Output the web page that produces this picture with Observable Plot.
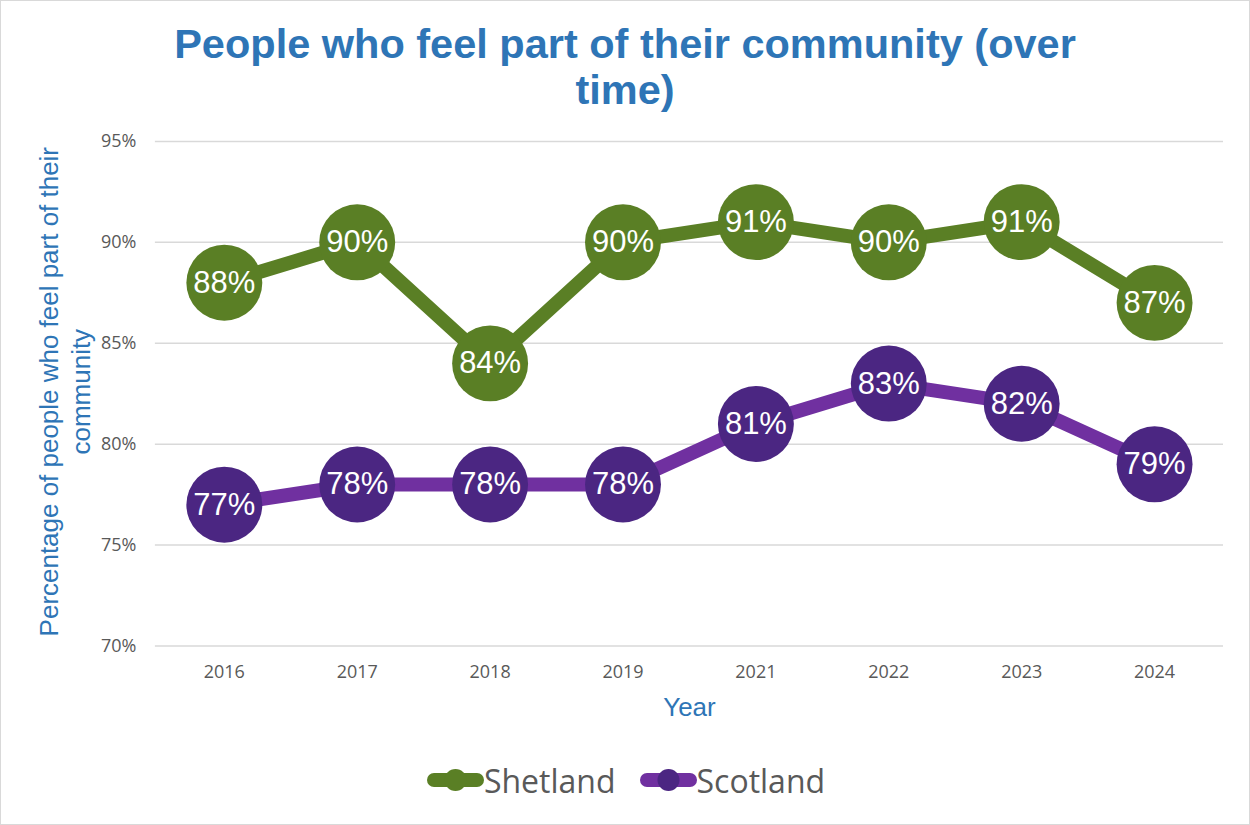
<!DOCTYPE html>
<html>
<head>
<meta charset="utf-8">
<script src="https://cdn.jsdelivr.net/npm/d3@7"></script>
<script src="https://cdn.jsdelivr.net/npm/@observablehq/plot@0.6"></script>
<style>
  body { margin: 0; background: #fff; }
  #wrap { position: relative; width: 1248px; height: 823px; border: 1px solid #d9d9d9; overflow: hidden; background: #fff; }
  #chart { position: absolute; left: -1px; top: -1px; z-index: 1; }
  #title { position: absolute; left: -1px; top: 20px; width: 1250px; text-align: center; color: #2e75b6;
           font-family: "Liberation Sans", Arial, sans-serif; font-weight: bold; font-size: 41.5px; line-height: 46px; z-index: 2; }
  #legend { position: absolute; left: 0px; top: 757px; width: 1250px; height: 44px; display: flex; justify-content: center;
            align-items: center; z-index: 2; font-family: "Open Sans", sans-serif; font-size: 32px; color: #595959; }
  .item { display: flex; align-items: center; margin: 0 12px; }
  .item svg { display: block; }
</style>
</head>
<body>
<div id="wrap">
  <div id="title">People who feel part of their community (over<br>time)</div>
  <div id="chart"></div>
  <div id="legend"></div>
</div>
<script>
const years = ["2016", "2017", "2018", "2019", "2021", "2022", "2023", "2024"];
const shetland = [88, 90, 84, 90, 91, 90, 91, 87];
const scotland = [77, 78, 78, 78, 81, 83, 82, 79];
const yTicks = [70, 75, 80, 85, 90, 95];
const seriesNames = ["Shetland", "Scotland"];
const yLabel = "Percentage of people who feel part of their\ncommunity";
const xLabel = "Year";

const lineColors = {Shetland: "#5a7f25", Scotland: "#7030a0"};
const dotColors = {Shetland: "#5a7f25", Scotland: "#4b2682"};

const shetData = years.map((y, i) => ({year: y, value: shetland[i], series: "Shetland"}));
const scotData = years.map((y, i) => ({year: y, value: scotland[i], series: "Scotland"}));

const blue = "#2e75b6";
const arial = "'Liberation Sans', Arial, sans-serif";

const plot = Plot.plot({
  width: 1250,
  height: 825,
  marginLeft: 155,
  marginRight: 26,
  marginTop: 141,
  marginBottom: 179,
  style: {background: "transparent", fontFamily: "'Open Sans', sans-serif", fontSize: "18px", color: "#595959"},
  x: {type: "point", domain: years, padding: 0.5, label: null},
  y: {domain: [70, 95], label: null},
  marks: [
    Plot.ruleY(yTicks, {stroke: "#d9d9d9", strokeWidth: 1.5}),
    Plot.axisY({ticks: yTicks, tickSize: 0, tickPadding: 19, tickFormat: d => d + "%", label: null}),
    Plot.axisX({tickSize: 0, tickPadding: 19, label: null}),
    Plot.line(shetData, {x: "year", y: "value", stroke: lineColors.Shetland, strokeWidth: 14}),
    Plot.line(scotData, {x: "year", y: "value", stroke: lineColors.Scotland, strokeWidth: 14}),
    Plot.dot(shetData, {x: "year", y: "value", r: 38, fill: dotColors.Shetland}),
    Plot.dot(scotData, {x: "year", y: "value", r: 38, fill: dotColors.Scotland}),
    Plot.text(shetData.concat(scotData), {x: "year", y: "value", text: d => d.value + "%", fill: "white",
      fontSize: 31, fontFamily: arial}),
    Plot.text([yLabel], {text: d => d, frameAnchor: "left", textAnchor: "middle", lineAnchor: "middle",
      dx: -92, dy: -2, rotate: -90, fill: blue, fontSize: 26, lineHeight: 1.24, fontFamily: arial}),
    Plot.text([xLabel], {text: d => d, frameAnchor: "bottom", textAnchor: "middle", lineAnchor: "middle",
      dy: 62, fill: blue, fontSize: 26, fontFamily: arial})
  ]
});
document.getElementById("chart").appendChild(plot);

const legend = document.getElementById("legend");
seriesNames.forEach(name => {
  const item = document.createElement("div");
  item.className = "item";
  item.innerHTML = `<svg width="57" height="30" viewBox="0 0 57 30">
    <line x1="7" y1="15" x2="50" y2="15" stroke="${lineColors[name]}" stroke-width="14" stroke-linecap="round"/>
    <circle cx="28.5" cy="15" r="11" fill="${dotColors[name]}"/></svg><span>${name}</span>`;
  legend.appendChild(item);
});
</script>
</body>
</html>
